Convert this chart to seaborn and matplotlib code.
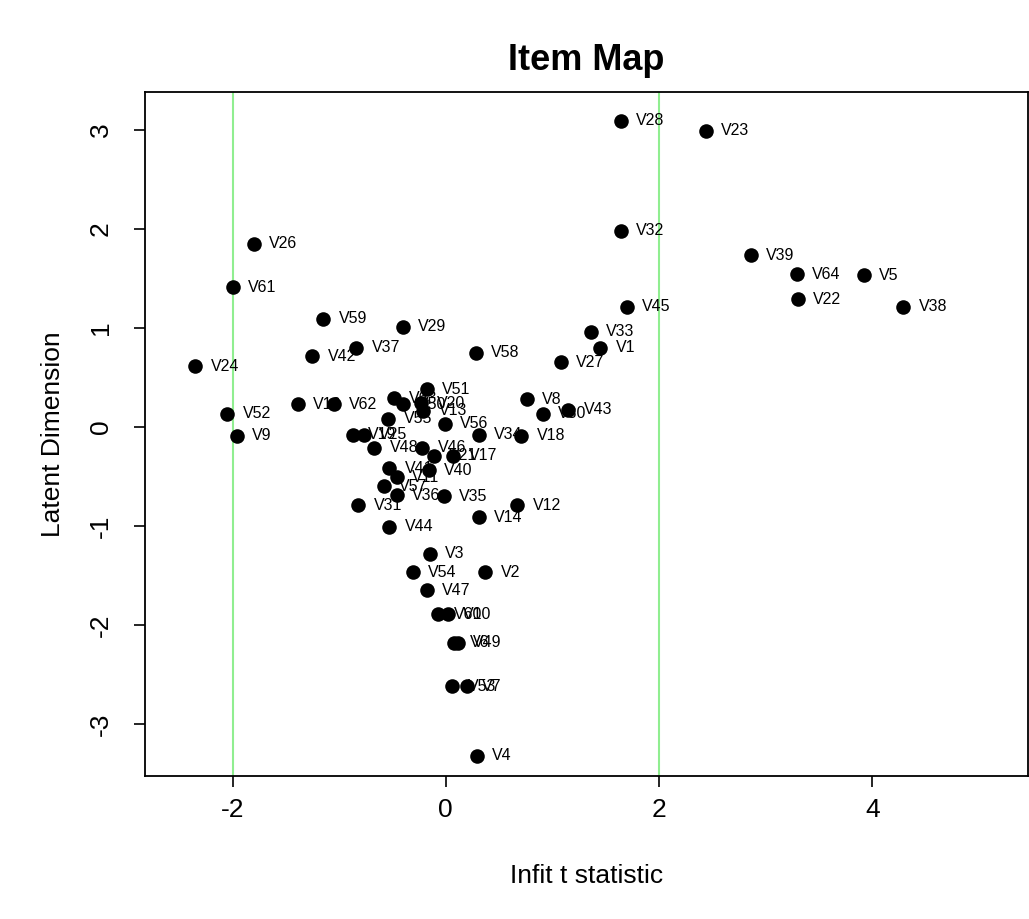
import pandas as pd
import matplotlib
matplotlib.use('Agg')
import matplotlib.pyplot as plt
import seaborn as sns

# item labels, infit t statistic and latent dimension
items = ['V28', 'V23', 'V32', 'V39', 'V64', 'V5', 'V22', 'V38', 'V45', 'V33',
         'V1', 'V27', 'V26', 'V61', 'V59', 'V29', 'V37', 'V42', 'V58', 'V24',
         'V52', 'V9', 'V16', 'V62', 'V51', 'V8', 'V63', 'V50', 'V20', 'V13',
         'V55', 'V56', 'V34', 'V18', 'V30', 'V43', 'V19', 'V25', 'V48', 'V46',
         'V21', 'V17', 'V41', 'V11', 'V40', 'V57', 'V36', 'V35', 'V31', 'V12',
         'V14', 'V44', 'V3', 'V54', 'V2', 'V47', 'V60', 'V10', 'V6', 'V49',
         'V53', 'V7', 'V4']
infit = [1.64, 2.44, 1.64, 2.86, 3.29, 3.92, 3.30, 4.29, 1.70, 1.36,
         1.45, 1.08, -1.80, -2.00, -1.15, -0.40, -0.84, -1.25, 0.28, -2.35,
         -2.05, -1.96, -1.39, -1.05, -0.18, 0.76, -0.49, -0.40, -0.23, -0.21,
         -0.54, -0.01, 0.31, 0.71, 0.91, 1.15, -0.87, -0.77, -0.67, -0.22,
         -0.11, 0.07, -0.53, -0.46, -0.16, -0.58, -0.46, -0.02, -0.82, 0.67,
         0.31, -0.53, -0.15, -0.31, 0.37, -0.18, -0.07, 0.02, 0.08, 0.11,
         0.06, 0.20, 0.29]
latent = [3.09, 2.99, 1.98, 1.73, 1.54, 1.53, 1.29, 1.21, 1.21, 0.96,
          0.80, 0.65, 1.85, 1.41, 1.09, 1.01, 0.80, 0.71, 0.75, 0.61,
          0.13, -0.09, 0.23, 0.23, 0.38, 0.28, 0.29, 0.23, 0.24, 0.16,
          0.08, 0.03, -0.08, -0.09, 0.13, 0.17, -0.08, -0.08, -0.21, -0.21,
          -0.29, -0.29, -0.42, -0.51, -0.44, -0.60, -0.69, -0.70, -0.79, -0.79,
          -0.91, -1.01, -1.28, -1.47, -1.47, -1.65, -1.89, -1.89, -2.18, -2.18,
          -2.62, -2.62, -3.32]

df = pd.DataFrame({'item': items, 'infit': infit, 'latent': latent})

sns.set_style('white')
plt.rcParams['font.family'] = ['Liberation Sans', 'DejaVu Sans']
plt.rcParams['axes.unicode_minus'] = False
plt.rcParams['text.color'] = 'black'
plt.rcParams['axes.labelcolor'] = 'black'
plt.rcParams['xtick.color'] = 'black'
plt.rcParams['ytick.color'] = 'black'

fig = plt.figure(figsize=(10.29, 9.19), dpi=100)
ax = fig.add_axes([0.141, 0.156, 0.858, 0.744])

ax.axvline(-2, color='#90EE90', lw=1.5, zorder=1)
ax.axvline(2, color='#90EE90', lw=1.5, zorder=1)

sns.scatterplot(data=df, x='infit', y='latent', color='black', s=110,
                edgecolor='black', linewidth=0, ax=ax, zorder=3)

for _, r in df.iterrows():
    ax.annotate(r['item'], (r['infit'], r['latent']), xytext=(11, 0),
                textcoords='offset points', ha='left', va='center',
                fontsize=11.5, color='black', zorder=4)

ax.set_xlim(-2.82, 5.46)
ax.set_ylim(-3.52, 3.38)
ax.set_xticks([-2, 0, 2, 4])
ax.set_yticks([-3, -2, -1, 0, 1, 2, 3])

for sp in ax.spines.values():
    sp.set_color('black')
    sp.set_linewidth(1.3)

ax.tick_params(axis='both', direction='out', length=8, width=1.2,
               labelsize=19, color='black', labelcolor='black',
               bottom=True, left=True)
ax.tick_params(axis='x', pad=8)
ax.tick_params(axis='y', pad=24)
for lab in ax.get_yticklabels():
    lab.set_rotation(90)
    lab.set_va('center')
    lab.set_ha('center')

ax.set_xlabel('Infit t statistic', fontsize=19, labelpad=30)
ax.set_ylabel('Latent Dimension', fontsize=19, labelpad=17)
ax.set_title('Item Map', fontsize=26, fontweight='bold', pad=16)

fig.savefig('out.png', dpi=100)
